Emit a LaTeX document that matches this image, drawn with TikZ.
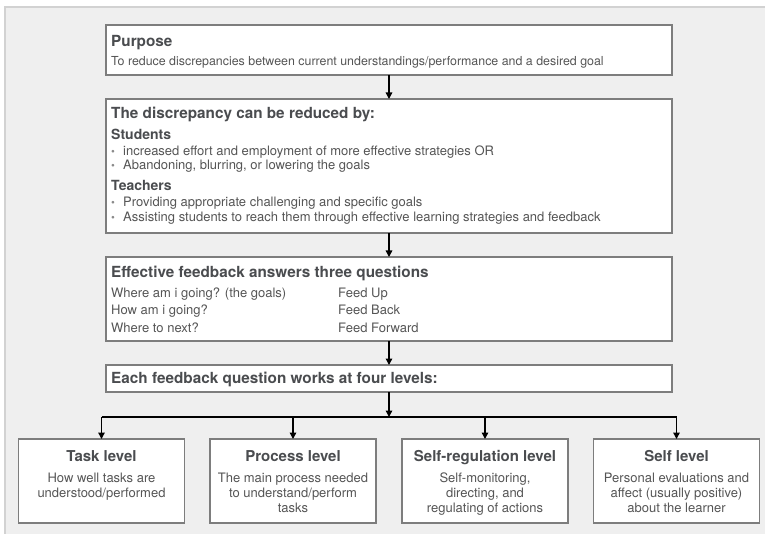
\documentclass[tikz,border=0pt]{standalone}
\usepackage{fontspec}
\setmainfont{TeX Gyre Heros}
\usetikzlibrary{arrows.meta}

\definecolor{panel}{HTML}{EFEFEF}
\definecolor{panelrule}{HTML}{D2D2D2}
\definecolor{boxrule}{HTML}{7D7D7D}
\definecolor{headcol}{HTML}{4A4C4F}
\definecolor{bodycol}{HTML}{555555}
\definecolor{dotcol}{HTML}{8A8A8A}

\newcommand{\bul}{\makebox[12pt][l]{\textcolor{dotcol}{\fontsize{11}{11}\selectfont\raisebox{0.2pt}{•}}}}

\begin{document}
\begin{tikzpicture}[x=1pt,y=-1pt,
  box/.style={draw=boxrule, line width=1.1pt, fill=white, inner sep=0pt, outer sep=0pt, minimum width=566pt},
  lvlbox/.style={draw=boxrule, line width=1.1pt, fill=white, inner sep=0pt, outer sep=0pt, minimum width=166pt, minimum height=84pt},
  flow/.style={-{Triangle[length=6.5pt,width=6.5pt]}, line width=1.4pt, black},
  rail/.style={line width=1.4pt, black},
  head/.style={anchor=base west, inner sep=0pt, text=headcol, font=\fontsize{15.3}{18}\selectfont\bfseries},
  sub/.style={anchor=base west, inner sep=0pt, text=headcol, font=\fontsize{14}{16}\selectfont\bfseries},
  body/.style={anchor=base west, inner sep=0pt, text=bodycol, font=\fontsize{13}{15}\selectfont},
  lvlhead/.style={anchor=base, inner sep=0pt, text=headcol, font=\fontsize{15}{18}\selectfont\bfseries},
  lvlbody/.style={anchor=base, inner sep=0pt, text=bodycol, font=\fontsize{13}{15}\selectfont},
]
\useasboundingbox (0,0) rectangle (765,534);

% grey panel behind the chart
\fill[panel] (5,7) rectangle (765,534);
\draw[panelrule, line width=1.5pt] (5,534) -- (5,7) -- (765,7);

% main column of boxes
\node[box, minimum height=50pt]  (purpose) at (389,50)    {};
\node[box, minimum height=134pt] (disc)    at (389,166)   {};
\node[box, minimum height=84pt]  (three)   at (389,299)   {};
\node[box, minimum height=27pt]  (four)    at (389,378.5) {};

% purpose
\node[head] (purpose-t) at (111,46.5) {Purpose};
\node[body, font=\fontsize{12.4}{15}\selectfont] (purpose-b) at (111,66) {To reduce discrepancies between current understandings/performance and a desired goal};

% how the discrepancy is reduced
\node[head] (disc-t)  at (111,119) {The discrepancy can be reduced by:};
\node[sub]  (stud)    at (111,140) {Students};
\node[body] (stud-a)  at (111,155.5) {\bul increased effort and employment of more effective strategies OR};
\node[body] (stud-b)  at (111,170) {\bul Abandoning, blurring, or lowering the goals};
\node[sub]  (teach)   at (111,191) {Teachers};
\node[body] (teach-a) at (111,207) {\bul Providing appropriate challenging and specific goals};
\node[body] (teach-b) at (111,221.5) {\bul Assisting students to reach them through effective learning strategies and feedback};

% three questions
\node[head] (three-t) at (111,278) {Effective feedback answers three questions};
\node[body] (q1) at (111,298) {Where am i going? (the goals)};
\node[body] (q2) at (111,315) {How am i going?};
\node[body] (q3) at (111,332) {Where to next?};
\node[body] (a1) at (338,298) {Feed Up};
\node[body] (a2) at (338,315) {Feed Back};
\node[body] (a3) at (338,332) {Feed Forward};

% four levels
\node[head] (four-t) at (111,383) {Each feedback question works at four levels:};

% level boxes
\node[lvlbox] (task)    at (101.5,481) {};
\node[lvlbox] (process) at (293,481)   {};
\node[lvlbox] (selfreg) at (485,481)   {};
\node[lvlbox] (self)    at (676.5,481) {};

\node[lvlhead] (task-t) at (101.5,461) {Task level};
\node[lvlbody] (task-1) at (101.5,482) {How well tasks are};
\node[lvlbody] (task-2) at (101.5,497) {understood/performed};

\node[lvlhead] (process-t) at (293,461) {Process level};
\node[lvlbody] (process-1) at (293,482) {The main process needed};
\node[lvlbody] (process-2) at (293,497) {to understand/perform};
\node[lvlbody] (process-3) at (293,512) {tasks};

\node[lvlhead] (selfreg-t) at (485,461) {Self-regulation level};
\node[lvlbody] (selfreg-1) at (485,482) {Self-monitoring,};
\node[lvlbody] (selfreg-2) at (485,497) {directing, and};
\node[lvlbody] (selfreg-3) at (485,512) {regulating of actions};

\node[lvlhead] (self-t) at (676.5,461) {Self level};
\node[lvlbody] (self-1) at (676.5,482) {Personal evaluations and};
\node[lvlbody] (self-2) at (676.5,497) {affect (usually positive)};
\node[lvlbody] (self-3) at (676.5,512) {about the learner};

% connectors
\draw[flow] (purpose.south) -- (disc.north);
\draw[flow] (disc.south) -- (three.north);
\draw[flow] (three.south) -- (four.north);

\coordinate (split) at (389,417);
\draw[flow] (four.south) -- (split);
\draw[rail] (task.north |- split) -- (self.north |- split);
\draw[flow] (task.north |- split) -- (task.north);
\draw[flow] (process.north |- split) -- (process.north);
\draw[flow] (selfreg.north |- split) -- (selfreg.north);
\draw[flow] (self.north |- split) -- (self.north);
\end{tikzpicture}
\end{document}
